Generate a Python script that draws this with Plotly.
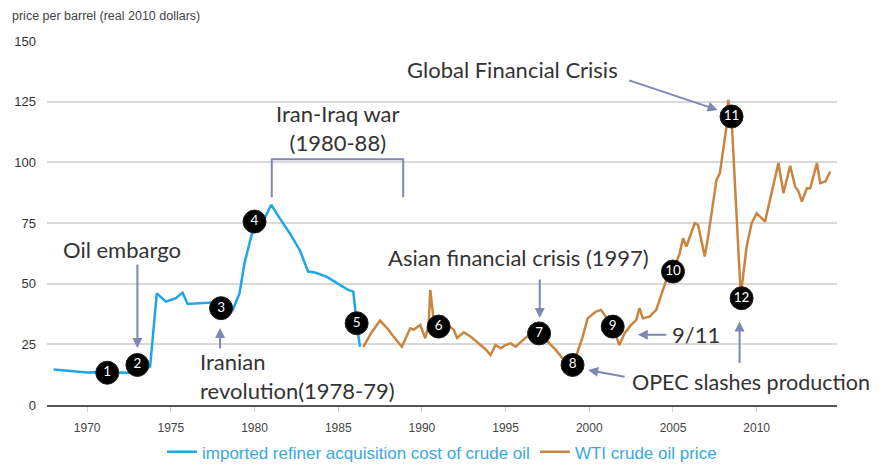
import plotly.graph_objects as go

# imported refiner acquisition cost (real 2010 $)
rac_years = [1968.0, 1968.8, 1969.5, 1970.0, 1970.5, 1971.2, 1972.0, 1972.5, 1973.0,
             1973.76, 1974.16, 1974.7, 1975.3, 1975.7, 1976.0, 1976.6, 1977.1, 1977.7,
             1978.0, 1978.7, 1979.1, 1979.4, 1979.8, 1980.1, 1980.6, 1981.0, 1981.5,
             1982.1, 1982.7, 1983.2, 1983.6, 1984.3, 1985.1, 1985.6, 1985.9, 1986.1, 1986.3]
rac_values = [14.6, 14.2, 13.6, 13.4, 13.5, 13.3, 13.4, 13.3, 14.0,
              15.8, 46.0, 42.6, 44.0, 46.3, 41.6, 41.8, 42.0, 42.3,
              39.9, 39.2, 46.0, 58.4, 69.4, 75.6, 77.0, 82.5, 77.0,
              70.8, 63.9, 55.0, 54.6, 52.9, 49.5, 47.4, 46.7, 33.7, 24.0]

# WTI crude oil price (real 2010 $)
wti_years = [1986.5, 1987.0, 1987.5, 1988.0, 1988.3, 1988.8, 1989.3, 1989.5, 1989.9,
             1990.2, 1990.4, 1990.5, 1990.7, 1991.0, 1991.5, 1991.9, 1992.1, 1992.5,
             1992.9, 1993.3, 1993.8, 1994.1, 1994.4, 1994.7, 1995.0, 1995.3, 1995.6,
             1996.0, 1996.4, 1997.0, 1997.6, 1998.0, 1998.4, 1998.8, 1999.2, 1999.6,
             1999.9, 2000.4, 2000.7, 2001.0, 2001.4, 2001.8, 2002.1, 2002.5, 2002.8,
             2003.0, 2003.2, 2003.6, 2004.0, 2004.6, 2005.0, 2005.4, 2005.6, 2005.8,
             2006.3, 2006.5, 2006.9, 2007.1, 2007.6, 2007.8, 2008.2, 2008.3, 2008.5,
             2009.05, 2009.4, 2009.7, 2010.0, 2010.5, 2010.9, 2011.3, 2011.6, 2012.0,
             2012.3, 2012.5, 2012.7, 2013.0, 2013.2, 2013.6, 2013.8, 2014.1, 2014.4]
wti_values = [24.0, 30.0, 34.8, 31.0, 28.2, 24.0, 31.6, 31.0, 33.0,
              27.5, 33.0, 47.4, 35.0, 32.3, 33.0, 31.0, 27.6, 30.0,
              28.2, 26.0, 23.0, 20.6, 24.7, 23.4, 24.7, 25.4, 24.0,
              26.5, 28.9, 29.5, 25.4, 22.7, 19.3, 16.5, 19.9, 28.0,
              35.7, 38.5, 39.2, 36.4, 32.3, 24.7, 29.5, 33.0, 35.0,
              39.9, 35.7, 36.4, 39.2, 51.5, 55.0, 62.5, 68.7, 65.3,
              74.9, 74.2, 61.2, 69.4, 92.8, 95.5, 114.8, 125.8, 118.0,
              45.0, 65.3, 74.9, 79.0, 75.6, 87.3, 99.7, 87.3, 98.6,
              90.0, 88.0, 83.8, 89.3, 89.3, 99.7, 91.4, 92.1, 96.2]

# numbered event markers
event_labels = ["1", "2", "3", "4", "5", "6", "7", "8", "9", "10", "11", "12"]
event_years = [1971.2, 1973.0, 1978.0, 1980.0, 1986.1, 1991.0, 1997.0, 1999.0, 2001.4, 2005.0, 2008.5, 2009.1]
event_values = [13.3, 16.5, 39.9, 75.6, 33.7, 32.3, 29.5, 16.5, 32.3, 55.0, 118.9, 44.0]

x_ticks = [1970, 1975, 1980, 1985, 1990, 1995, 2000, 2005, 2010]
y_ticks = [0, 25, 50, 75, 100, 125, 150]

BLUE = "#1ea6e6"
ORANGE = "#c98540"
NOTE = "#7f87b3"
TXT = "#333333"
ANN_FONT = dict(family="Lato, Open Sans, sans-serif", size=22, color=TXT)

fig = go.Figure()
fig.add_trace(go.Scatter(x=rac_years, y=rac_values, mode="lines",
                         name="imported refiner acquisition cost of crude oil",
                         line=dict(color=BLUE, width=2.5)))
fig.add_trace(go.Scatter(x=wti_years, y=wti_values, mode="lines",
                         name="WTI crude oil price",
                         line=dict(color=ORANGE, width=2.5)))
fig.add_trace(go.Scatter(x=event_years, y=event_values, mode="markers+text",
                         text=event_labels, textposition="middle center",
                         textfont=dict(family="Lato, sans-serif", size=13.5, color="white"),
                         marker=dict(color="black", size=23, line=dict(color="#222", width=1)),
                         showlegend=False, hoverinfo="skip"))

# text notes
fig.add_annotation(x=1972.1, y=63.9, text="Oil embargo", showarrow=False, font=ANN_FONT)
fig.add_annotation(x=1976.6, y=12.0, text="Iranian<br>revolution(1978-79)", showarrow=False,
                   xanchor="left", align="left", font=ANN_FONT)
fig.add_annotation(x=1984.96, y=114.2, text="Iran-Iraq war<br>(1980-88)", showarrow=False,
                   font=ANN_FONT)
fig.add_annotation(x=1995.8, y=60.6, text="Asian financial crisis (1997)", showarrow=False,
                   font=ANN_FONT)
fig.add_annotation(x=1995.4, y=138.1, text="Global Financial Crisis", showarrow=False,
                   font=ANN_FONT)
fig.add_annotation(x=2002.9, y=28.9, text="9/11", showarrow=False, xanchor="left",
                   xshift=32, font=ANN_FONT)
fig.add_annotation(x=2002.45, y=9.6, text="OPEC slashes production", showarrow=False,
                   xanchor="left", font=dict(ANN_FONT, size=21.5))

# arrows (head at x/y, tail offset in px)
arrows = [
    (1973.0, 23.5, 0, -85),
    (1977.94, 31.7, 0, 22),
    (1997.04, 35.9, 0, -40),
    (2007.67, 121.6, -90, -30),
    (2002.9, 28.9, 30, 0),
    (1999.93, 14.4, 38, 7),
    (2008.98, 34.4, 0, 43),
]
for hx, hy, ax, ay in arrows:
    fig.add_annotation(x=hx, y=hy, ax=ax, ay=ay, text="", showarrow=True,
                       arrowhead=2, arrowsize=1, arrowwidth=2, arrowcolor=NOTE)

# Iran-Iraq war bracket
fig.add_shape(type="path", path="M 1981.03,85.6 L 1981.03,101.3 L 1988.88,101.3 L 1988.88,85.6",
              line=dict(color=NOTE, width=2))

fig.add_annotation(xref="paper", yref="paper", x=-0.047, y=1.068, xanchor="left", yanchor="middle",
                   text="price per barrel (real 2010 dollars)", showarrow=False,
                   font=dict(family="Liberation Sans, Arial, sans-serif", size=12.5, color="#444"))

fig.update_xaxes(range=[1967.6, 2014.8], tickvals=x_ticks, showgrid=False,
                 ticks="outside", ticklen=5, tickcolor="#c8d4e2", tickwidth=1,
                 showline=True, linecolor="#555", linewidth=2, zeroline=False,
                 ticklabelstandoff=6, automargin=False,
                 tickfont=dict(family="Liberation Sans, Arial, sans-serif", size=12, color="#444"))
fig.update_yaxes(range=[0, 150], tickvals=y_ticks, showgrid=True, gridcolor="#d9d9d9",
                 gridwidth=1.5, zeroline=False, ticklabelstandoff=10, automargin=False,
                 tickfont=dict(family="Liberation Sans, Arial, sans-serif", size=13, color="#333"))

# page body has an 8px margin, so the figure is drawn 8px in from the corner
fig.update_layout(
    width=873, height=459,
    margin=dict(l=39, r=44, t=33, b=62, autoexpand=False),
    plot_bgcolor="white", paper_bgcolor="white",
    showlegend=True,
    legend=dict(orientation="h", x=0.5, xanchor="center", y=-0.13, yanchor="middle",
                font=dict(family="Liberation Sans, Arial, sans-serif", size=17, color="#3aa8e0"),
                itemwidth=30, tracegroupgap=0),
)

fig.write_html("out.html")
